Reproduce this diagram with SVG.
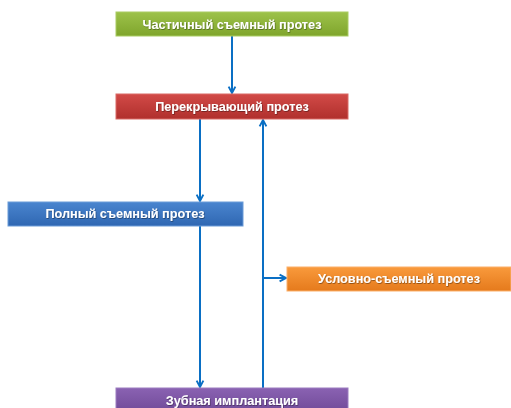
<svg xmlns="http://www.w3.org/2000/svg" width="511" height="408" viewBox="0 0 511 408">
<defs>
<linearGradient id="gGreen" x1="0" y1="0" x2="0" y2="1"><stop offset="0" stop-color="#9dc24a"/><stop offset="1" stop-color="#7fa52c"/></linearGradient>
<linearGradient id="gRed" x1="0" y1="0" x2="0" y2="1"><stop offset="0" stop-color="#d24a47"/><stop offset="1" stop-color="#b0302d"/></linearGradient>
<linearGradient id="gBlue" x1="0" y1="0" x2="0" y2="1"><stop offset="0" stop-color="#4a85cf"/><stop offset="1" stop-color="#2f67b2"/></linearGradient>
<linearGradient id="gOrange" x1="0" y1="0" x2="0" y2="1"><stop offset="0" stop-color="#f99a3c"/><stop offset="1" stop-color="#e57a1c"/></linearGradient>
<linearGradient id="gPurple" x1="0" y1="0" x2="0" y2="1"><stop offset="0" stop-color="#8a62b2"/><stop offset="1" stop-color="#6e4896"/></linearGradient>
<filter id="ts" x="-10%" y="-30%" width="120%" height="160%"><feDropShadow dx="0.6" dy="0.8" stdDeviation="0.6" flood-color="#000" flood-opacity="0.45"/></filter>
<marker id="chev" viewBox="0 0 10 10" refX="9" refY="5" markerWidth="8" markerHeight="9" markerUnits="userSpaceOnUse" orient="auto" overflow="visible">
<path d="M1,0.8 L9,5 L1,9.2" fill="none" stroke="#0a6fc4" stroke-width="2.4"/>
</marker>
</defs>
<style>
.box{stroke-width:1}
.lbl{font-family:"Liberation Sans",Arial,sans-serif;font-weight:bold;font-size:12.7px;fill:#fff;text-anchor:middle;dominant-baseline:central;filter:url(#ts)}
.con{fill:none;stroke:#0a6fc4;stroke-width:2;marker-end:url(#chev)}
</style>
<rect width="511" height="408" fill="#fff"/>
<g id="connectors">
<line class="con" x1="232" y1="36" x2="232" y2="93"/>
<line class="con" x1="200" y1="119" x2="200" y2="201"/>
<line class="con" x1="200" y1="226" x2="200" y2="387"/>
<line class="con" x1="263" y1="388" x2="263" y2="120"/>
<path d="M263,278 L286,278" class="con"/>
</g>
<g id="node-partial">
<rect class="box" x="116" y="12" width="232" height="24" fill="url(#gGreen)" stroke="#a9cc62"/>
<text class="lbl" x="232" y="24.5">Частичный съемный протез</text>
</g>
<g id="node-overlay">
<rect class="box" x="116" y="94" width="232" height="25" fill="url(#gRed)" stroke="#d96a66"/>
<text class="lbl" x="232" y="106.5">Перекрывающий протез</text>
</g>
<g id="node-full">
<rect class="box" x="8" y="202" width="235" height="24" fill="url(#gBlue)" stroke="#6a9bd8"/>
<text class="lbl" x="125" y="214">Полный съемный протез</text>
</g>
<g id="node-conditional">
<rect class="box" x="287" y="267" width="224" height="24" fill="url(#gOrange)" stroke="#fbb06a"/>
<text class="lbl" x="399" y="279">Условно-съемный протез</text>
</g>
<g id="node-implant">
<rect class="box" x="116" y="388" width="232" height="26" fill="url(#gPurple)" stroke="#9b7cc0"/>
<text class="lbl" x="232" y="401">Зубная имплантация</text>
</g>
</svg>
